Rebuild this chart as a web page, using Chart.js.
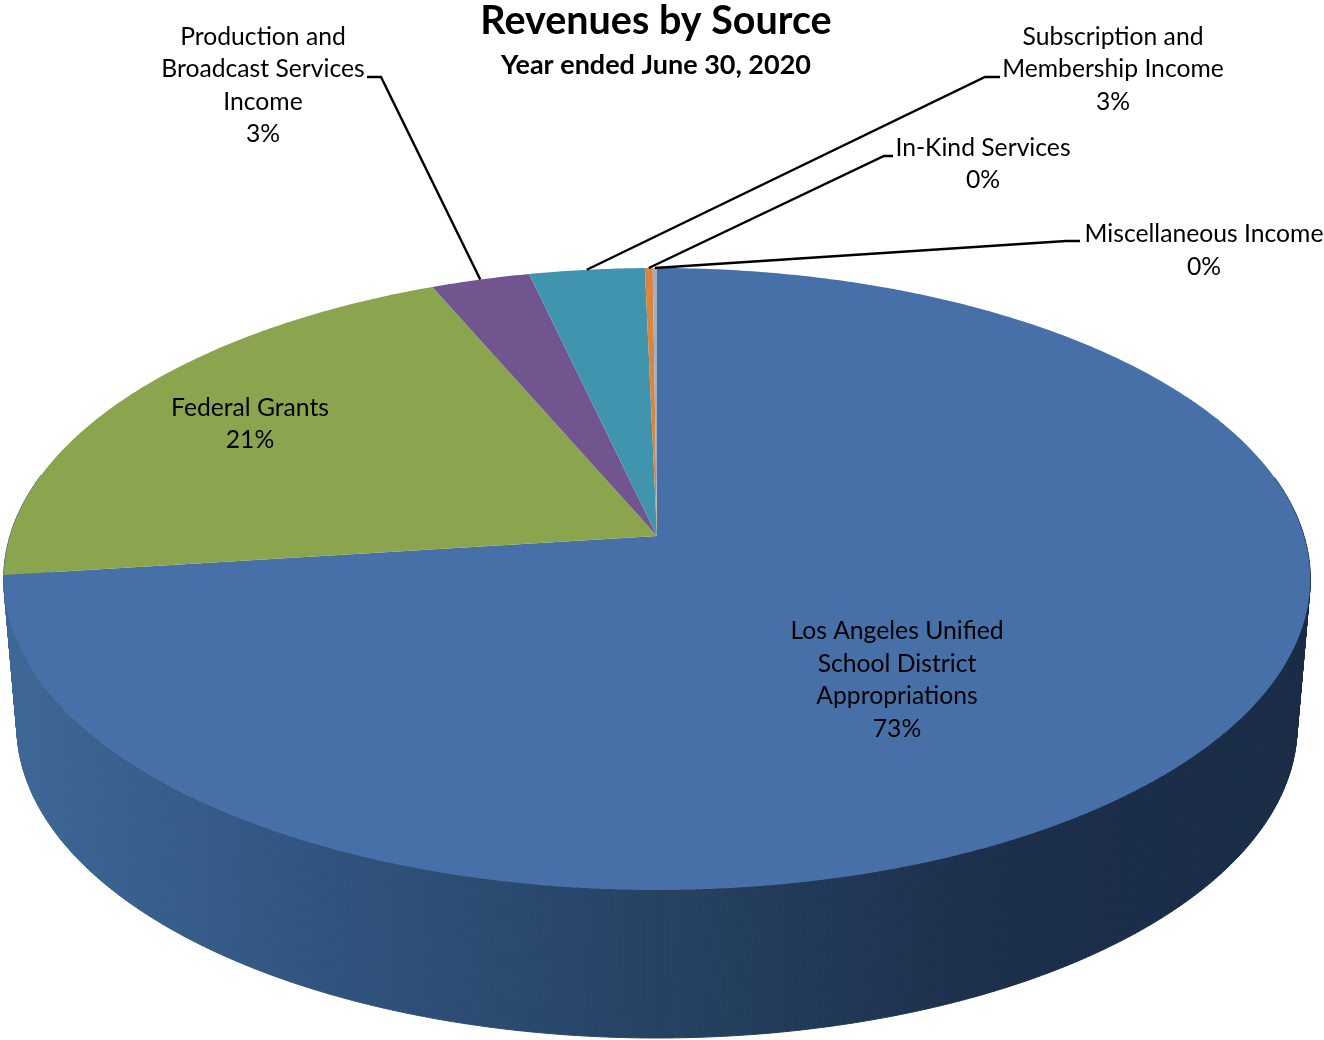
<!DOCTYPE html>
<html>
<head>
<meta charset="utf-8">
<title>Revenues by Source</title>
<script src="https://cdn.jsdelivr.net/npm/chart.js@4/dist/chart.umd.js"></script>
<style>
  html, body { margin: 0; padding: 0; background: #fff; }
  canvas { display: block; }
</style>
</head>
<body>
<canvas id="myChart" width="1324" height="1040"></canvas>
<script>
const categories = [
  'Los Angeles Unified School District Appropriations',
  'Federal Grants',
  'Production and Broadcast Services Income',
  'Subscription and Membership Income',
  'In-Kind Services',
  'Miscellaneous Income'
];
const shares = [73.0, 20.6, 2.8, 3.26, 0.22, 0.12];
const shareLabels = ['73%', '21%', '3%', '3%', '0%', '0%'];
const sliceColors = ['#4670a7', '#8aa54e', '#70558e', '#4094ae', '#db843d', '#a0afc8'];

// label text broken like the original, x = centre, y = first baseline
const labelLayout = [
  { lines: ['Los Angeles Unified', 'School District', 'Appropriations'], x: 897, y: 639 },
  { lines: ['Federal Grants'], x: 250, y: 415.5 },
  { lines: ['Production and', 'Broadcast Services', 'Income'], x: 263, y: 44.5, elbow: [381, 77], from: 367 },
  { lines: ['Subscription and', 'Membership Income'], x: 1113, y: 44.5, elbow: [985, 77], from: 1000 },
  { lines: ['In-Kind Services'], x: 983, y: 155.5, elbow: [884, 156], from: 893 },
  { lines: ['Miscellaneous Income'], x: 1204, y: 242, elbow: [1066, 241], from: 1080 }
];

const LINE_HEIGHT = 32.5;
const CX = 657;
const K = -0.138; // perspective strength
const topFace = { y: 536, rx: 647, ry: 305 };
const bottomFace = { y: 683, rx: 634, ry: 306 };

// circle angle -> point on the tilted disc
const project = (face, a) => {
  const w = 1 + K * Math.sin(a);
  return [CX + face.rx * Math.cos(a) / w, face.y + face.ry * Math.sin(a) / w];
};

const traceEdge = (ctx, face, a0, a1) => {
  const steps = Math.max(2, Math.ceil(Math.abs(a1 - a0) * 120));
  for (let i = 0; i <= steps; i++) {
    const p = project(face, a0 + (a1 - a0) * i / steps);
    ctx.lineTo(p[0], p[1]);
  }
};

const piePerspective = {
  id: 'piePerspective',
  beforeDatasetsDraw(chart) {
    const ctx = chart.ctx;
    const arcs = chart.getDatasetMeta(0).data;

    const wall = ctx.createLinearGradient(0, 0, 1324, 0);
    wall.addColorStop(0, '#3e6897');
    wall.addColorStop(0.25, '#30537e');
    wall.addColorStop(0.5, '#264263');
    wall.addColorStop(0.75, '#1c2f4b');
    wall.addColorStop(1, '#192b45');

    // side wall first as thin strips, the top face goes over it
    ctx.save();
    ctx.fillStyle = wall;
    ctx.strokeStyle = wall;
    ctx.lineWidth = 1;
    arcs.forEach((arc) => {
      const steps = Math.ceil((arc.endAngle - arc.startAngle) * 120);
      for (let i = 0; i < steps; i++) {
        const a0 = arc.startAngle + (arc.endAngle - arc.startAngle) * i / steps;
        const a1 = arc.startAngle + (arc.endAngle - arc.startAngle) * (i + 1) / steps;
        if (Math.sin(a0) < -0.2) continue; // back of the pie, never seen
        ctx.beginPath();
        traceEdge(ctx, topFace, a0, a1);
        traceEdge(ctx, bottomFace, a1, a0);
        ctx.closePath();
        ctx.fill();
        ctx.stroke();
      }
    });

    arcs.forEach((arc, i) => {
      ctx.beginPath();
      ctx.moveTo(CX, topFace.y);
      traceEdge(ctx, topFace, arc.startAngle, arc.endAngle);
      ctx.closePath();
      ctx.fillStyle = sliceColors[i];
      ctx.fill();
    });

    // leader lines run to the middle of each slice's rim
    ctx.strokeStyle = '#000';
    ctx.lineWidth = 2.4;
    labelLayout.forEach((lab, i) => {
      if (!lab.elbow) return;
      const tip = project(topFace, (arcs[i].startAngle + arcs[i].endAngle) / 2);
      ctx.beginPath();
      ctx.moveTo(lab.from, lab.elbow[1]);
      ctx.lineTo(lab.elbow[0], lab.elbow[1]);
      ctx.lineTo(tip[0], tip[1]);
      ctx.stroke();
    });

    ctx.fillStyle = '#000';
    ctx.font = '24.7px Lato';
    ctx.textAlign = 'center';
    ctx.textBaseline = 'alphabetic';
    labelLayout.forEach((lab, i) => {
      lab.lines.concat(shareLabels[i]).forEach((line, n) => {
        ctx.fillText(line, lab.x, lab.y + n * LINE_HEIGHT);
      });
    });
    ctx.restore();
    return false;
  }
};

new Chart(document.getElementById('myChart').getContext('2d'), {
  type: 'pie',
  data: {
    labels: categories,
    datasets: [{ data: shares, backgroundColor: sliceColors, borderWidth: 0 }]
  },
  options: {
    responsive: false,
    animation: false,
    layout: { padding: { right: 12 } },
    plugins: {
      legend: { display: false },
      tooltip: { enabled: false },
      title: {
        display: true,
        text: 'Revenues by Source',
        color: '#000',
        font: { family: 'Lato', size: 39.5, weight: 'bold', lineHeight: 1.0 },
        padding: { top: 2, bottom: 9 }
      },
      subtitle: {
        display: true,
        text: 'Year ended June 30, 2020',
        color: '#000',
        font: { family: 'Lato', size: 27, weight: 'bold', lineHeight: 1.1 },
        padding: { top: 0, bottom: 0 }
      }
    }
  },
  plugins: [piePerspective]
});
</script>
</body>
</html>
